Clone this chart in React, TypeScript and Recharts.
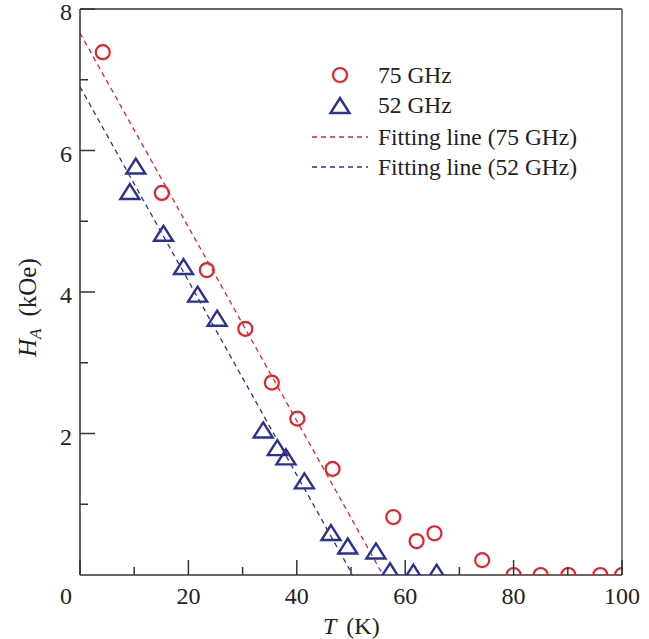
import React from 'react'
import { ComposedChart, Scatter, Line, XAxis, YAxis, ReferenceLine } from 'recharts'

const RED = '#e62129'
const BLUE = '#2b3190'
const AXIS = '#333'
const FONT = '"Liberation Serif", "Times New Roman", serif'

// 75 GHz measurements (T in K, H_A in kOe)
const t75 = [4.2, 15.1, 23.4, 30.5, 35.4, 40.1, 46.6, 57.8, 62.1, 65.4, 74.2, 80, 85, 90.1, 96, 100]
const h75 = [7.39, 5.4, 4.31, 3.48, 2.72, 2.21, 1.5, 0.82, 0.48, 0.59, 0.21, 0, 0, 0, 0, 0]

// 52 GHz measurements
const t52 = [10.3, 9.2, 15.4, 19.1, 21.7, 25.3, 33.8, 36.4, 38.0, 41.4, 46.3, 49.4, 54.6, 57.2, 61.5, 65.8]
const h52 = [5.78, 5.42, 4.83, 4.36, 3.97, 3.63, 2.05, 1.8, 1.67, 1.33, 0.6, 0.41, 0.34, 0.06, 0.04, 0.04]

// fitting line end points
const fitT75 = [0, 55.9]
const fitH75 = [7.66, 0]
const fitT52 = [0, 50.3]
const fitH52 = [6.9, 0]

const xTicks = [0, 10, 20, 30, 40, 50, 60, 70, 80, 90, 100]
const yTicks = [0, 1, 2, 3, 4, 5, 6, 7, 8]

const zip = (xs: number[], ys: number[]) => xs.map((x, i) => ({ x, y: ys[i] }))
const data75 = zip(t75, h75)
const data52 = zip(t52, h52)
const fit75 = zip(fitT75, fitH75)
const fit52 = zip(fitT52, fitH52)

const Circle = (p: any) => (
  <circle cx={p.cx} cy={p.cy} r={7} fill="none" stroke={RED} strokeWidth={2.2} />
)
const Triangle = (p: any) => (
  <path
    d={`M${p.cx},${p.cy - 7.5} L${p.cx + 9.5},${p.cy + 7.5} L${p.cx - 9.5},${p.cy + 7.5} Z`}
    fill="none"
    stroke={BLUE}
    strokeWidth={2.4}
  />
)

const XTick = (p: any) => {
  const v = p.payload.value
  const major = v % 20 === 0
  return (
    <g>
      <line x1={p.x} y1={p.y} x2={p.x} y2={p.y - (major ? 15 : 8)} stroke={AXIS} strokeWidth={1.5} />
      {major && (
        <text x={v === 0 ? p.x - 14 : p.x} y={p.y + 29} textAnchor="middle" fontSize={24} fontFamily={FONT} fill="#222">
          {v}
        </text>
      )}
    </g>
  )
}

const YTick = (p: any) => {
  const v = p.payload.value
  const major = v % 2 === 0
  if (v === 0) return <g />
  return (
    <g>
      <line x1={p.x} y1={p.y} x2={p.x + (major ? 15 : 8)} y2={p.y} stroke={AXIS} strokeWidth={1.5} />
      {major && (
        <text x={p.x - 8} y={p.y + 11} textAnchor="end" fontSize={24} fontFamily={FONT} fill="#222">
          {v}
        </text>
      )}
    </g>
  )
}

const LegendBox = () => (
  <svg width={320} height={130} style={{ position: 'absolute', left: 300, top: 55 }}>
    <g fontFamily={FONT} fontSize={23.5} fill="#222">
      <circle cx={40} cy={20} r={7} fill="none" stroke={RED} strokeWidth={2.2} />
      <text x={78} y={28}>75 GHz</text>
      <path d="M40,43 L49.5,58 L30.5,58 Z" fill="none" stroke={BLUE} strokeWidth={2.4} />
      <text x={78} y={58}>52 GHz</text>
      <line x1={12} y1={82} x2={68} y2={82} stroke={RED} strokeWidth={1.3} strokeDasharray="5 4" />
      <text x={78} y={90}>Fitting line (75 GHz)</text>
      <line x1={12} y1={112} x2={68} y2={112} stroke={BLUE} strokeWidth={1.3} strokeDasharray="5 4" />
      <text x={78} y={120}>Fitting line (52 GHz)</text>
    </g>
  </svg>
)

const App = () => {
  return (
    <div style={{ position: 'absolute', left: 0, top: 0, width: 649, height: 639, background: '#fff' }}>
      <ComposedChart width={649} height={639} margin={{ top: 9, right: 27, bottom: 14, left: 20 }}>
        <XAxis
          type="number"
          dataKey="x"
          domain={[0, 100]}
          ticks={xTicks}
          allowDataOverflow
          tick={<XTick />}
          tickLine={false}
          tickSize={0}
          tickMargin={0}
          height={50}
          axisLine={{ stroke: AXIS, strokeWidth: 1.5 }}
          label={{
            content: () => (
              <text x={323} y={634} fontSize={24} fontFamily={FONT} fill="#222">
                <tspan fontStyle="italic">T</tspan>
                <tspan dx={10}>(K)</tspan>
              </text>
            ),
          }}
        />
        <YAxis
          type="number"
          dataKey="y"
          domain={[0, 8]}
          ticks={yTicks}
          allowDataOverflow
          tick={<YTick />}
          tickLine={false}
          tickSize={0}
          tickMargin={0}
          width={60}
          axisLine={{ stroke: AXIS, strokeWidth: 1.5 }}
          label={{
            content: () => (
              <text x={36} y={357} fontSize={25} fontFamily={FONT} fill="#222" transform="rotate(-90 36 357)">
                <tspan fontStyle="italic">H</tspan>
                <tspan fontStyle="italic" fontSize={17} dy={5}>A</tspan>
                <tspan dy={-5} dx={12}>(kOe)</tspan>
              </text>
            ),
          }}
        />
        <ReferenceLine y={8} stroke={AXIS} strokeWidth={1.5} />
        <ReferenceLine x={100} stroke="#555" strokeWidth={1.5} />
        <Line data={fit75} dataKey="y" type="linear" stroke={RED} strokeWidth={1.3} strokeDasharray="5 4" dot={false} isAnimationActive={false} />
        <Line data={fit52} dataKey="y" type="linear" stroke={BLUE} strokeWidth={1.3} strokeDasharray="5 4" dot={false} isAnimationActive={false} />
        <Scatter data={data75} dataKey="y" shape={Circle} isAnimationActive={false} />
        <Scatter data={data52} dataKey="y" shape={Triangle} isAnimationActive={false} />
      </ComposedChart>
      <LegendBox />
    </div>
  )
}

export default App
